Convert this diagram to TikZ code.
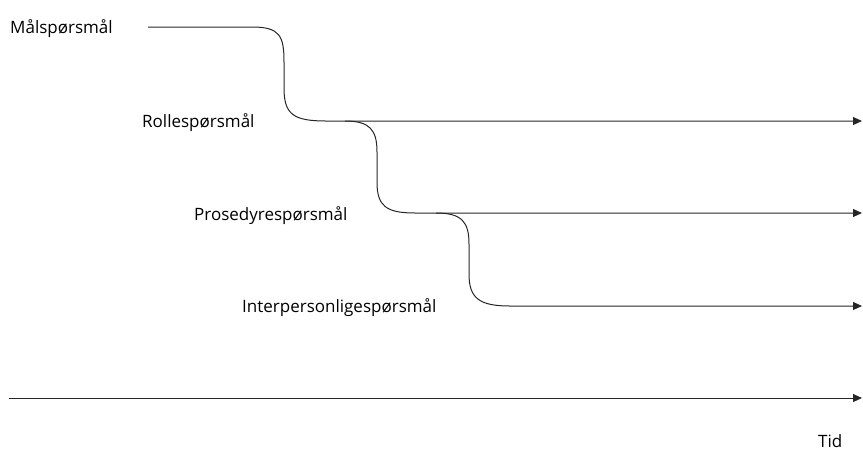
\documentclass[tikz,border=0pt]{standalone}
\usepackage{fontspec}
\setmainfont{Open Sans}
\usetikzlibrary{arrows.meta}
\begin{document}
\begin{tikzpicture}[x=1pt,y=-1pt,
  lbl/.style={anchor=base west,inner sep=0pt,font=\fontsize{17}{20}\selectfont},
  flow/.style={line width=1pt,black!85},
  arr/.style={flow,-{Triangle[length=9pt,width=8pt]}}]
\useasboundingbox (0,0) rectangle (863,451);
% labels
\node[lbl] (mal) at (10,33) {Målspørsmål};
\node[lbl] (rolle) at (142,127) {Rollespørsmål};
\node[lbl] (pros) at (194,220) {Prosedyrespørsmål};
\node[lbl] (inter) at (242,312) {Interpersonligespørsmål};
\node[lbl] (tid) at (818,447) {Tid};
% points
\coordinate (s0) at (148,27);
\coordinate (e1) at (862,121);
\coordinate (b2) at (345,121);
\coordinate (e2) at (862,213);
\coordinate (b3) at (436,213);
\coordinate (e3) at (862,306);
\coordinate (t0) at (9,398);
\coordinate (t1) at (862,398);
% connectors
\draw[arr] (s0) -- (252,27) .. controls (280,27) and (284,36) .. (284,62)
  -- (284,88) .. controls (284,114) and (293,121) .. (326,121) -- (e1);
\draw[arr] (b2) .. controls (370,121) and (377,130) .. (377,152)
  -- (377,182) .. controls (377,206) and (386,213) .. (415,213) -- (e2);
\draw[arr] (b3) .. controls (462,213) and (469,222) .. (469,244)
  -- (469,274) .. controls (469,298) and (479,306) .. (510,306) -- (e3);
\draw[arr] (t0) -- (t1);
\end{tikzpicture}
\end{document}
